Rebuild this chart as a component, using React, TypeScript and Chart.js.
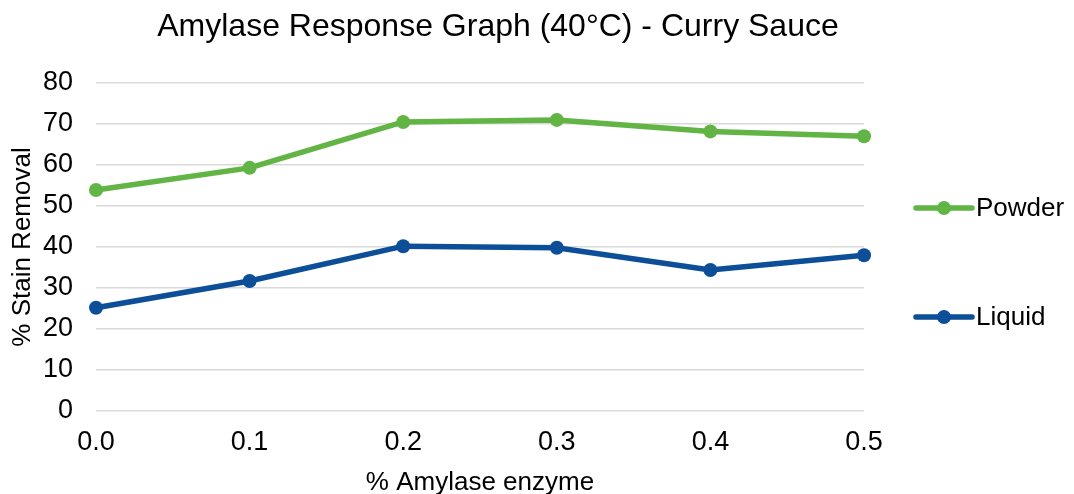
import React, { useEffect, useRef } from "react";
import { Chart, registerables } from "chart.js";

Chart.register(...registerables);

const categories = ["0.0", "0.1", "0.2", "0.3", "0.4", "0.5"];
const powderValues = [53.9, 59.3, 70.5, 71.0, 68.2, 67.0];
const liquidValues = [25.2, 31.7, 40.2, 39.8, 34.4, 38.0];
const yTicks = [0, 10, 20, 30, 40, 50, 60, 70, 80];

const GREEN = "#62b445";
const BLUE = "#0c4f98";
const FONT = "'Liberation Sans', Arial, sans-serif";

const sideLegend = {
  id: "sideLegend",
  afterDraw(chart: any) {
    const ctx = chart.ctx;
    const ys = [208, 317];
    chart.data.datasets.forEach((ds: any, i: number) => {
      const y = ys[i];
      const x0 = 916;
      const x1 = 972;
      ctx.save();
      ctx.strokeStyle = ds.borderColor;
      ctx.lineWidth = 5.5;
      ctx.lineCap = "round";
      ctx.beginPath();
      ctx.moveTo(x0, y);
      ctx.lineTo(x1, y);
      ctx.stroke();
      ctx.fillStyle = ds.borderColor;
      ctx.beginPath();
      ctx.arc((x0 + x1) / 2, y, 7, 0, Math.PI * 2);
      ctx.fill();
      ctx.fillStyle = "#000";
      ctx.font = `26px ${FONT}`;
      ctx.textBaseline = "middle";
      ctx.textAlign = "left";
      ctx.fillText(ds.label, x1 + 4, y + 1);
      ctx.restore();
    });
  },
};

export default function App() {
  const ref = useRef<HTMLCanvasElement | null>(null);
  useEffect(() => {
    document.body.style.margin = "0";
    const chart = new Chart(ref.current as HTMLCanvasElement, {
      type: "line",
      data: {
        labels: categories,
        datasets: [
          {
            label: "Powder",
            data: powderValues,
            borderColor: GREEN,
            backgroundColor: GREEN,
            borderWidth: 5.5,
            pointRadius: 7,
            pointHoverRadius: 7,
            pointBackgroundColor: GREEN,
            pointBorderWidth: 0,
            tension: 0,
          },
          {
            label: "Liquid",
            data: liquidValues,
            borderColor: BLUE,
            backgroundColor: BLUE,
            borderWidth: 5.5,
            pointRadius: 7,
            pointHoverRadius: 7,
            pointBackgroundColor: BLUE,
            pointBorderWidth: 0,
            tension: 0,
          },
        ],
      },
      options: {
        animation: false,
        responsive: false,
        maintainAspectRatio: false,
        layout: { padding: { left: 0, right: 78, top: 0, bottom: 0 } },
        plugins: {
          legend: { display: false },
          tooltip: { enabled: false },
          title: {
            display: true,
            text: "Amylase Response Graph (40°C) - Curry Sauce",
            color: "#000",
            font: { family: FONT, size: 32, weight: "normal", lineHeight: 1.2 },
            padding: { top: 8, bottom: 36.6 },
          },
        },
        scales: {
          x: {
            offset: false,
            grid: { display: false, drawTicks: false },
            border: { display: false },
            ticks: {
              color: "#000",
              font: { family: FONT, size: 27 },
              padding: 15,
              maxRotation: 0,
            },
            title: {
              display: true,
              text: "% Amylase enzyme",
              color: "#000",
              font: { family: FONT, size: 26 },
              padding: { top: 0, bottom: -4 },
            },
            afterFit(axis: any) {
              axis.height = 83;
            },
          },
          y: {
            min: 0,
            max: 80,
            afterBuildTicks(axis: any) {
              axis.ticks = yTicks.map((v) => ({ value: v }));
            },
            grid: { color: "#d9d9d9", lineWidth: 1.5, drawTicks: false },
            border: { display: false },
            ticks: {
              color: "#000",
              font: { family: FONT, size: 27 },
              padding: 23,
            },
            title: {
              display: true,
              text: "% Stain Removal",
              color: "#000",
              font: { family: FONT, size: 26 },
              padding: { top: 7, bottom: 0 },
            },
            afterFit(axis: any) {
              axis.width = 96;
            },
          },
          legendSpace: {
            type: "linear",
            position: "right",
            display: true,
            grid: { display: false, drawTicks: false },
            border: { display: false },
            ticks: { display: false },
            afterFit(axis: any) {
              axis.width = 1074 - 78 - 864;
            },
          },
        },
      },
      plugins: [sideLegend],
    });
    return () => chart.destroy();
  }, []);
  return (
    <div style={{ position: "absolute", left: 0, top: 0, width: 1074, height: 494 }}>
      <canvas ref={ref} width={1074} height={494} style={{ width: 1074, height: 494 }} />
    </div>
  );
}
